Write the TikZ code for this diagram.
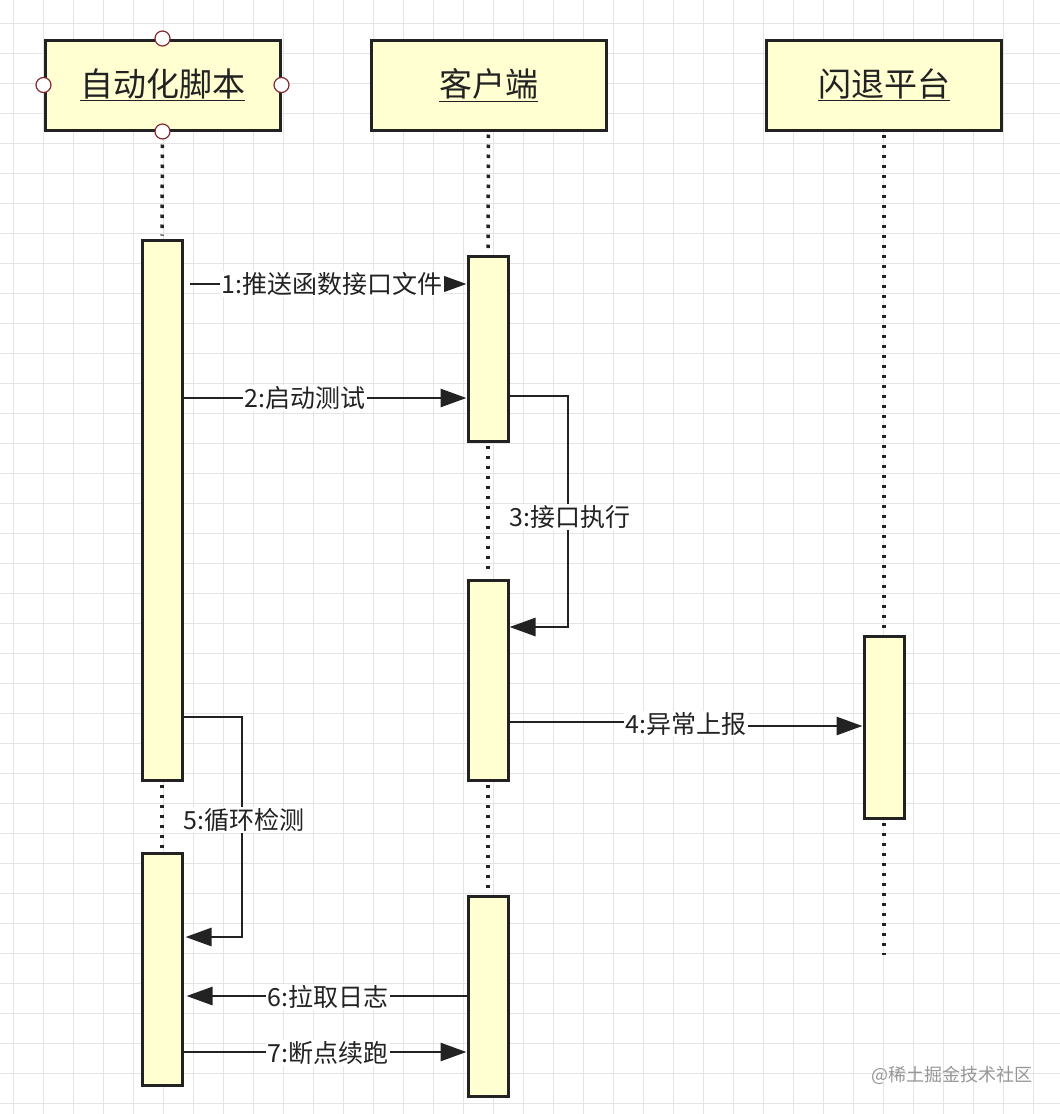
\documentclass[tikz,border=0pt]{standalone}
\usepackage{fontspec}
\newfontfamily\cjk{Noto Sans CJK SC}
\usetikzlibrary{arrows.meta,calc}
\definecolor{ln}{RGB}{34,34,34}
\definecolor{actfill}{RGB}{255,255,210}
\definecolor{gridc}{RGB}{228,228,228}
\definecolor{circ}{RGB}{130,40,50}
\definecolor{txt}{RGB}{34,34,34}
\definecolor{wmc}{RGB}{150,150,150}
\begin{document}
\begin{tikzpicture}[x=1pt,y=-1pt,
  head/.style={draw=ln, line width=3pt, fill=actfill, minimum width=235pt, minimum height=90pt, inner sep=0pt, font=\cjk\fontsize{33}{33}\selectfont, text=txt},
  act/.style={draw=ln, line width=3pt, fill=actfill, minimum width=40pt, inner sep=0pt},
  life/.style={ln, line width=3.5pt, dash pattern=on 3.5pt off 6.5pt, shorten <=3pt, shorten >=3pt},
  msg/.style={ln, line width=2.8pt, -{Triangle[length=26pt,width=18pt]}},
  lbl/.style={fill=white, inner sep=1.5pt, font=\cjk\fontsize{25}{25}\selectfont, text=txt},
  port/.style={circle, draw=circ, line width=1.2pt, fill=white, minimum size=15pt, inner sep=0pt}]
\fill[white] (0,0) rectangle (1060,1114);
\useasboundingbox (0,0) rectangle (1060,1114);
\foreach \x in {13,43,...,1063} \draw[gridc, line width=1pt] (\x,0) -- (\x,1114);
\foreach \y in {23,53,...,1103} \draw[gridc, line width=1pt] (0,\y) -- (1060,\y);
% heads
\node[head] (h1) at (162.5,85) {\underline{自动化脚本}};
\node[head] (h2) at (488.5,85) {\underline{客户端}};
\node[head] (h3) at (884,85) {\underline{闪退平台}};
% activations
\node[act, minimum height=540pt] (a1) at (162,510) {};
\node[act, minimum height=232pt] (a2) at (162,969) {};
\node[act, minimum height=185pt] (cA) at (488,348.5) {};
\node[act, minimum height=200pt] (cB) at (488,680) {};
\node[act, minimum height=200pt] (cC) at (488,996) {};
\node[act, minimum height=182pt] (f1) at (884,727) {};
\coordinate (fend) at (884,955);
% lifelines
\draw[life] (h1.south) -- (a1.north);
\draw[life] (a1.south) -- (a2.north);
\draw[life] (h2.south) -- (cA.north);
\draw[life] (cA.south) -- (cB.north);
\draw[life] (cB.south) -- (cC.north);
\draw[life] (h3.south) -- (f1.north);
\draw[life, shorten >=0pt] (f1.south) -- (fend);
% ports
\node[port] (p1) at (h1.north) {};
\node[port] (p2) at (h1.south) {};
\node[port] (p3) at (h1.west) {};
\node[port] (p4) at (h1.east) {};
% messages
\coordinate (k3) at (568,627);
\coordinate (k5) at (242,937);
\coordinate (k4) at (686,722);
\draw[msg] ($(a1.east |- 0,284)+(6,0)$) -- (cA.west |- 0,284);
\draw[msg] (a1.east |- 0,398) -- (cA.west |- 0,398);
\draw[msg] (cA.east |- 0,396) -| (k3) -- (cB.east |- k3);
\draw[msg] (cB.east |- k4) -- (k4) -- ++(0,4) -- (f1.west |- 0,726);
\draw[msg] (a1.east |- 0,717) -| (k5) -- ($(a2.east |- k5)+(2,0)$);
\draw[msg] (cC.west |- 0,996) -- ($(a2.east |- 0,996)+(3,0)$);
\draw[msg] (a2.east |- 0,1052) -- (cC.west |- 0,1052);
% labels
\node[lbl] (t1) at (332,284) {1:推送函数接口文件};
\node[lbl] (t2) at (305,398) {2:启动测试};
\node[lbl] (t3) at (570,517) {3:接口执行};
\node[lbl] (t4) at (686,724) {4:异常上报};
\node[lbl] (t5) at (244,820) {5:循环检测};
\node[lbl] (t6) at (328,997) {6:拉取日志};
\node[lbl] (t7) at (328,1053) {7:断点续跑};
\node[font=\cjk\fontsize{18}{18}\selectfont, text=wmc] (wm) at (952,1075) {@稀土掘金技术社区};
\end{tikzpicture}
\end{document}
